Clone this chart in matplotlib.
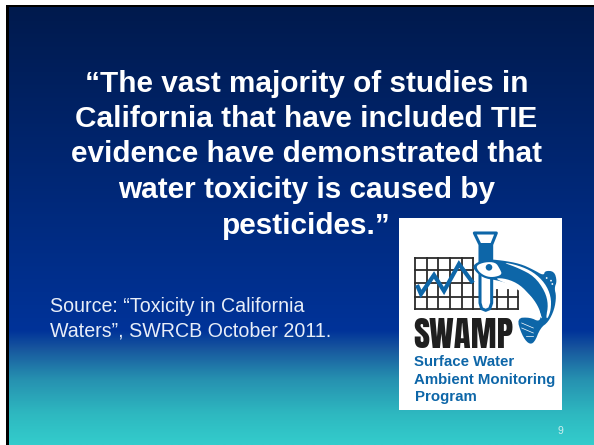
import numpy as np
import matplotlib
matplotlib.use("Agg")
import matplotlib.pyplot as plt
from matplotlib.colors import LinearSegmentedColormap
from matplotlib.patches import Rectangle, Polygon, Circle

title_lines = ["\u201cThe vast majority of studies in",
               "California that have included TIE",
               "evidence have demonstrated that",
               "water toxicity is caused by",
               "pesticides.\u201d"]
title_y = [84, 119, 154, 190, 226]
source_lines = ["Source: \u201cToxicity in California", "Waters\u201d, SWRCB October 2011."]
source_y = [307, 331]
logo_lines = ["Surface Water", "Ambient Monitoring", "Program"]
logo_y = [362, 380, 397]
page_number = "9"

W, H = 594, 445
fig = plt.figure(figsize=(W/100, H/100), dpi=100, facecolor="white")
ax = fig.add_axes([0, 0, 1, 1])
ax.axis("off")

ax.add_patch(Rectangle((6, 5), W-6, H-5, fc="black", ec="none", zorder=1))
cmap = LinearSegmentedColormap.from_list("bg", [(0, "#001a4d"), (0.74, "#003399"), (0.78, "#17559e"),
                                                (0.85, "#2690b0"), (0.93, "#2eb8c0"), (1, "#33cccc")])
grad = np.linspace(0, 1, 256).reshape(-1, 1)
ax.imshow(grad, cmap=cmap, extent=(9, W, H, 7), aspect="auto", zorder=2, interpolation="bilinear")
ax.set_xlim(0, W); ax.set_ylim(H, 0)

for s, y in zip(title_lines, title_y):
    ax.text(306.5, y, s, color="white", fontsize=21.4, fontweight="bold", family="Liberation Sans",
            ha="center", va="center", zorder=5)
for s, y in zip(source_lines, source_y):
    ax.text(50, y, s, color="#e8eef8", fontsize=14.1, family="Liberation Sans", ha="left", va="center", zorder=5)
ax.text(560, 431, page_number, color="#cfeeee", fontsize=7.5, family="Liberation Sans", ha="center", va="center", zorder=5)

# logo
ax.add_patch(Rectangle((399, 218), 163, 192, fc="white", ec="none", zorder=6))
DARK = "#2b2b2b"; BLUE = "#0d66a8"

def z(pts, ox=465, oy=228):
    return [(ox + a/3, oy + b/3) for a, b in pts]

def smooth(pts, n=3):
    p = np.array(pts, float)
    for _ in range(n):
        q = np.roll(p, -1, axis=0)
        p = np.column_stack([0.75*p + 0.25*q, 0.25*p + 0.75*q]).reshape(-1, 2)
    return p

# grid
for x in np.arange(415, 474, 11.7):
    ax.plot([x, x], [258, 309], color=DARK, lw=1.3, zorder=7)
for y in [258, 270, 283, 297, 309]:
    ax.plot([415, 473], [y, y], color=DARK, lw=1.3, zorder=7)
for y in [297, 309]:
    ax.plot([473, 518], [y, y], color=DARK, lw=1.3, zorder=7)
for x in [497, 507.5, 518]:
    ax.plot([x, x], [290, 309], color=DARK, lw=1.3, zorder=7)
# wave line
ax.plot([417, 421, 434, 444, 459, 473], [285, 294, 275, 291, 264, 283], color=BLUE, lw=3, zorder=8,
        solid_joinstyle="miter", solid_capstyle="butt")

# test tube
tube = z([(28, 15), (94, 15), (80, 50), (80, 225), (74, 242), (62, 247), (50, 242), (45, 225), (45, 50)])
ax.add_patch(Polygon(tube, fc="white", ec=BLUE, lw=2.2, joinstyle="round", zorder=9))
ax.add_patch(Polygon(z([(45, 46), (80, 46), (80, 120), (45, 120)]), fc=BLUE, ec="none", zorder=9))

# fish
body = z([(20, 112), (60, 93), (110, 97), (165, 107), (205, 125), (236, 143), (240, 128), (268, 130), (276, 160),
          (268, 180), (274, 205), (268, 245), (250, 282), (226, 300), (208, 345), (190, 348), (170, 320), (155, 270),
          (195, 268), (224, 282), (228, 256), (214, 225), (190, 195), (160, 178), (105, 158), (60, 152), (35, 135)])
ax.add_patch(Polygon(smooth(body, 2), fc=BLUE, ec="none", zorder=10))
head = z([(32, 113), (60, 102), (92, 103), (104, 122), (112, 140), (85, 148), (62, 145), (42, 132)])
ax.add_patch(Polygon(smooth(head, 2), fc="white", ec="none", zorder=11))
ax.add_patch(Circle(z([(72, 118)])[0], 3.3, fc=BLUE, ec="none", zorder=12))
belly = z([(88, 150), (125, 152), (165, 170), (198, 205), (222, 245), (234, 278), (212, 250), (190, 215), (160, 184),
           (120, 165)])
ax.add_patch(Polygon(smooth(belly, 2), fc="white", ec="none", zorder=11))
back = z([(110, 102), (160, 112), (205, 132), (240, 165), (258, 205), (258, 245), (248, 272), (243, 268), (250, 230),
          (240, 190), (208, 145), (160, 120)])
ax.add_patch(Polygon(smooth(back, 2), fc="white", ec="none", zorder=11))
for a, b, r in [(130, 125, 3.5), (150, 130, 3.5), (170, 140, 3.6), (190, 155, 3.6), (205, 172, 3.5), (218, 192, 3.5),
                (228, 212, 3.2), (235, 235, 3.0), (236, 258, 2.5)]:
    ax.add_patch(Circle(z([(a, b)])[0], r, fc=BLUE, ec="none", zorder=12))
for x0, y0 in z([(245, 150), (258, 158), (262, 168)]):
    ax.add_patch(Circle((x0, y0), 0.9, fc="white", ec="none", zorder=12))
for (a, b), (c, d) in [((170, 285), (205, 300)), ((170, 300), (205, 315)), ((182, 325), (205, 325))]:
    ax.plot(*zip(*z([(a, b), (c, d)])), color="white", lw=0.5, zorder=12)

ax.text(463.5, 333.5, "SWAMP", color="#1f1f1f", fontsize=25,
        family=["Anton", "Archivo Narrow", "Liberation Sans Narrow", "Liberation Sans"],
        ha="center", va="center_baseline", zorder=13)
for s, y in zip(logo_lines, logo_y):
    ax.text(414.5, y, s, color=BLUE, fontsize=10.8, fontweight="bold", family="Liberation Sans", ha="left", va="center", zorder=13)

fig.savefig("out.png", dpi=100, facecolor="white")
